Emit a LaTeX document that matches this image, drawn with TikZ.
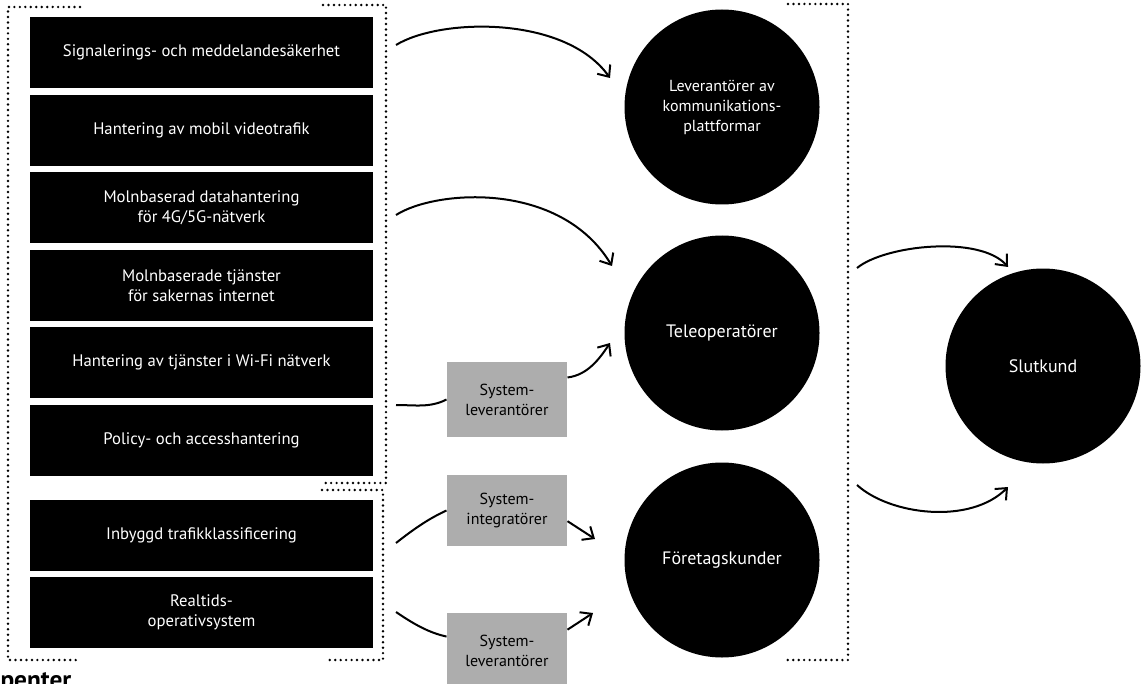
\documentclass[tikz,border=0pt]{standalone}
\usepackage{fontspec}
\setmainfont{PT Sans}
\usetikzlibrary{arrows.meta}

\tikzset{every picture/.style={line width=0.75pt}}
\tikzset{
  svartbox/.style={fill=black,text=white,minimum width=257.25pt,minimum height=53.25pt,inner sep=0pt,align=center,font=\fontsize{12.5}{15}\selectfont},
  rund/.style={circle,fill=black,text=white,minimum size=146.25pt,inner sep=0pt,align=center,font=\fontsize{13.5}{16}\selectfont},
  gralapp/.style={fill=black!32,text=black,minimum width=90pt,inner sep=0pt,align=center,font=\fontsize{12}{15}\selectfont},
  prickad/.style={line width=2pt,line cap=round,dash pattern=on 0pt off 4.1pt},
  pil/.style={line width=1.5pt,-{Straight Barb[length=7pt,width=12pt,line width=1.5pt]}},
  linje/.style={line width=1.5pt}
}

\begin{document}
\begin{tikzpicture}[x=0.75pt,y=0.75pt,yscale=-1,xscale=1]
\useasboundingbox (0,0) rectangle (1141,684);

%Dotted brackets
\draw [prickad] (80,7) -- (8,7) -- (8,660) -- (77,660) ;
\draw [prickad] (323,5) -- (386,5) -- (386,483) -- (322,483) ;
\draw [prickad] (322,490) -- (383,490) -- (383,660) -- (325,660) ;
\draw [prickad] (788,4) -- (848,4) -- (848,660) -- (787,660) ;

% Black boxes
\node [svartbox] (sig) at (201.5,52.5) {Signalerings- och meddelandesäkerhet};
\node [svartbox] (video) at (201.5,130.5) {Hantering av mobil videotrafik};
\node [svartbox] (moln) at (201.5,207.5) {Molnbaserad datahantering\\för 4G/5G-nätverk};
\node [svartbox] (iot) at (201.5,285.5) {Molnbaserade tjänster\\för sakernas internet};
\node [svartbox] (wifi) at (201.5,362.5) {Hantering av tjänster i Wi-Fi nätverk};
\node [svartbox] (policy) at (201.5,440.5) {Policy- och accesshantering};
\node [svartbox] (trafik) at (201.5,535.5) {Inbyggd trafikklassificering};
\node [svartbox] (rtos) at (201.5,612.5) {Realtids-\\operativsystem};

% Circles
\node [rund,font=\fontsize{12}{15}\selectfont] (lev) at (722,107) {Leverantörer av\\kommunikations-\\plattformar};
\node [rund] (tele) at (722,333) {Teleoperatörer};
\node [rund] (ftg) at (722,560) {Företagskunder};
\node [rund] (slut) at (1043,366) {Slutkund};

% Grey boxes
\node [gralapp,minimum height=56pt] (sl1) at (507,399.5) {System-\\leverantörer};
\node [gralapp,minimum height=53.25pt] (si) at (507,510.5) {System-\\integratörer};
\node [gralapp,minimum height=56pt] (sl2) at (507,650.5) {System-\\leverantörer};

% Free ends of the arrows
\coordinate (s1) at (396,45);
\coordinate (t1) at (610,78);
\coordinate (s2) at (396,215);
\coordinate (t2) at (612,266);
\coordinate (s3) at (396,405);
\coordinate (t3) at (610,343);
\coordinate (s4) at (396,543);
\coordinate (t4) at (595,539);
\coordinate (s5) at (396,612);
\coordinate (t5) at (593,613);
\coordinate (s6) at (857,268);
\coordinate (t6) at (1008,267);
\coordinate (s7) at (857,485);
\coordinate (t7) at (1008,487);

%Curve Lines
\draw [pil] (s1) .. controls (440,18) and (565,15) .. (t1) ;
\draw [pil] (s2) .. controls (435,190) and (560,180) .. (t2) ;
\draw [linje] (s3) .. controls (415,405) and (430,408) .. (sl1.west) ;
\draw [pil] (sl1.20) .. controls (588,375) and (600,358) .. (t3) ;
\draw [linje] (s4) .. controls (415,528) and (430,518) .. (si.west) ;
\draw [pil] (si.-10) -- (t4) ;
\draw [linje] (s5) .. controls (415,625) and (430,633) .. (sl2.167) ;
\draw [pil] (sl2.19) -- (t5) ;
\draw [pil] (s6) .. controls (885,245) and (980,235) .. (t6) ;
\draw [pil] (s7) .. controls (890,515) and (970,525) .. (t7) ;

% Text Node
\node [anchor=base west,font=\bfseries\fontsize{19}{21}\selectfont,inner sep=0pt] (rubrik) at (0,688) {penter};

\end{tikzpicture}
\end{document}
